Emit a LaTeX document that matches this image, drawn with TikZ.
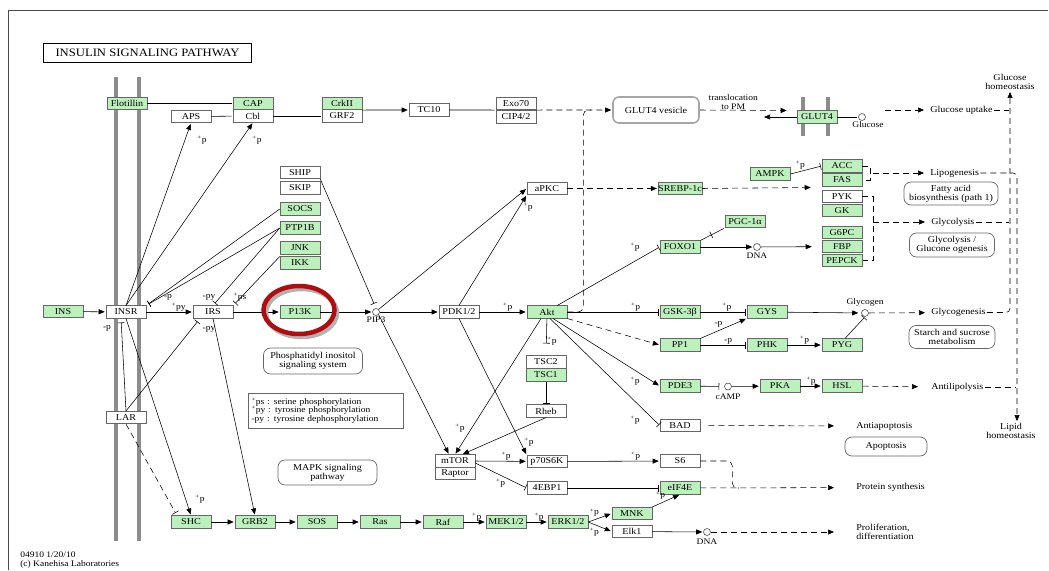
\documentclass[tikz,border=0pt]{standalone}
\usepackage{fontspec}
\setmainfont{Liberation Serif}[FakeStretch=1.12]
\usepackage{tikz}
\usetikzlibrary{positioning,arrows.meta,shapes}
\definecolor{kgreen}{RGB}{188,240,188}
\definecolor{kred}{RGB}{176,14,14}
\def\phos{\textsuperscript{+}p}
\def\dephos{-p}
\def\tyrp{\textsuperscript{+}py}
\def\tyrd{-py}
\def\serp{\textsuperscript{+}ps}
\def\kgfont{\fontsize{9}{9}\selectfont}
\def\kgsmall{\fontsize{8.5}{8.5}\selectfont}
\def\kgtitle{\fontsize{11.3}{12}\selectfont}

\begin{document}
\begin{tikzpicture}[>={Triangle[width=5pt,length=6pt]}, shorten >=1pt, auto, line width=0.55pt,
		gene/.style={draw=black!60, fill=kgreen, minimum width=40pt, minimum height=12.5pt, inner sep=0pt, font=\kgfont},
		ortho/.style={gene, fill=white},
		cpd/.style={circle, draw=black!75, fill=white, minimum size=7pt, inner sep=0pt},
		mapbox/.style={draw=black!60, rounded corners=7pt, line width=0.7pt, align=center, inner sep=1pt, font=\kgfont},
		txt/.style={font=\kgfont, inner sep=1pt, anchor=west, align=left},
		lbl/.style={font=\kgsmall, inner sep=0.8pt},
		inh/.style={-{Bar[width=7pt]}},
		ind/.style={dash pattern=on 6pt off 4pt},
		membr/.style={line width=3.5pt, draw=black!45},
		midbar/.style={sloped, draw, anchor=center, minimum width=0pt, minimum height=7pt, inner sep=0pt, pos=0.45}]
		\useasboundingbox (0pt,0pt) rectangle (1049pt,-570pt);
		\draw[black!70] (8pt,-570pt) -- (8pt,-10pt) -- (1049pt,-10pt);
		\draw[membr] (116pt,-77pt) -- (116pt,-542pt);
		\draw[membr] (139pt,-77pt) -- (139pt,-542pt);
		\draw[membr] (803pt,-97pt) -- (803pt,-137pt);
		\draw[membr] (828pt,-97pt) -- (828pt,-137pt);
		\draw (147.5pt, -53.0pt)node[draw, line width=1.5pt, minimum width=208pt, minimum height=19pt, font=\kgtitle](title){INSULIN SIGNALING PATHWAY};
		\draw (127.0pt, -103.5pt)node[gene](flot){Flotillin};
		\draw (253.0pt, -103.5pt)node[gene](cap){CAP};
		\draw (253.0pt, -116.0pt)node[ortho](cbl){Cbl};
		\draw (191.0pt, -116.5pt)node[ortho](aps){APS};
		\draw (342.0pt, -103.5pt)node[gene](crk){CrkII};
		\draw (342.0pt, -116.0pt)node[ortho](grf){GRF2};
		\draw (429.0pt, -110.0pt)node[ortho](tc10){TC10};
		\draw (516.0pt, -103.5pt)node[ortho](exo){Exo70};
		\draw (516.0pt, -117.0pt)node[ortho](cip){CIP4/2};
		\draw (656.0pt, -110.0pt)node[draw=black!35, line width=1.6pt, rounded corners=6pt, minimum width=86pt, minimum height=26pt, font=\kgfont](glut4v){GLUT4 vesicle};
		\draw (817.0pt, -117.0pt)node[gene](glut4){GLUT4};
		\draw (862.0pt, -117.0pt)node[cpd, label={[lbl, xshift=6pt, label distance=0pt]below:Glucose}](glc){};
		\draw (929.0pt, -110.0pt)node[txt](gupt){Glucose uptake};
		\draw (1010.0pt, -82.0pt)node[font=\kgfont, align=center, inner sep=1pt](ghomeo){Glucose\\homeostasis};
		\draw (770.0pt, -174.0pt)node[gene](ampk){AMPK};
		\draw (842.0pt, -166.0pt)node[gene](acc){ACC};
		\draw (842.0pt, -180.0pt)node[gene](fas){FAS};
		\draw (547.0pt, -188.5pt)node[ortho](apkc){aPKC};
		\draw (680.0pt, -188.5pt)node[gene](srebp){SREBP-1c};
		\draw (929.0pt, -173.0pt)node[txt](lipo){Lipogenesis};
		\draw (951.0pt, -193.5pt)node[mapbox, minimum width=94pt, minimum height=23pt](fabox){Fatty acid\\biosynthesis (path 1)};
		\draw (842.0pt, -196.5pt)node[ortho](pyk){PYK};
		\draw (842.0pt, -210.5pt)node[gene](gk){GK};
		\draw (842.0pt, -232.5pt)node[gene](g6pc){G6PC};
		\draw (842.0pt, -246.5pt)node[gene](fbp){FBP};
		\draw (842.0pt, -260.5pt)node[gene](pepck){PEPCK};
		\draw (930.0pt, -222.0pt)node[txt](glyc){Glycolysis};
		\draw (952.0pt, -245.0pt)node[mapbox, minimum width=85pt, minimum height=24pt](ggbox){Glycolysis /\\Glucone ogenesis};
		\draw (745.0pt, -221.5pt)node[gene](pgc){PGC-1α};
		\draw (680.0pt, -247.0pt)node[gene](foxo){FOXO1};
		\draw (757.0pt, -247.0pt)node[cpd, label={[lbl, label distance=1pt]below:DNA}](dna1){};
		\draw (300.0pt, -172.5pt)node[ortho](ship){SHIP};
		\draw (300.0pt, -188.0pt)node[ortho](skip){SKIP};
		\draw (300.0pt, -209.0pt)node[gene](socs){SOCS};
		\draw (300.0pt, -228.0pt)node[gene](ptp){PTP1B};
		\draw (300.0pt, -248.0pt)node[gene](jnk){JNK};
		\draw (300.0pt, -263.0pt)node[gene](ikk){IKK};
		\draw (63.0pt, -311.5pt)node[gene](ins){INS};
		\draw (126.0pt, -312.0pt)node[ortho](insr){INSR};
		\draw (213.0pt, -312.0pt)node[ortho](irs){IRS};
		\draw (300.0pt, -312.0pt)node[gene](pik){P13K};
		\draw (376.0pt, -312.0pt)node[cpd, label={[lbl, label distance=0pt]below:PIP3}](pip){};
		\draw (459.0pt, -312.0pt)node[ortho](pdk){PDK1/2};
		\draw (547.0pt, -312.0pt)node[gene](akt){Akt};
		\draw (680.0pt, -312.0pt)node[gene](gsk){GSK-3β};
		\draw (767.0pt, -312.0pt)node[gene](gys){GYS};
		\draw (865.0pt, -313.0pt)node[cpd, label={[lbl, label distance=2pt]above:Glycogen}](glycogen){};
		\draw (930.0pt, -312.5pt)node[txt](glycogenesis){Glycogenesis};
		\draw (313.0pt, -361.0pt)node[mapbox, minimum width=99pt, minimum height=26pt](pisbox){Phosphatidyl inositol\\signaling system};
		\draw (952.0pt, -337.0pt)node[mapbox, minimum width=86pt, minimum height=23pt](starch){Starch and sucrose\\metabolism};
		\draw (680.0pt, -345.0pt)node[gene](pp1){PP1};
		\draw (767.0pt, -345.0pt)node[gene](phk){PHK};
		\draw (842.0pt, -345.0pt)node[gene](pyg){PYG};
		\draw (546.0pt, -362.0pt)node[ortho](tsc2){TSC2};
		\draw (546.0pt, -375.0pt)node[gene](tsc1){TSC1};
		\draw (680.0pt, -386.0pt)node[gene](pde3){PDE3};
		\draw (728.0pt, -386.5pt)node[cpd, label={[lbl, label distance=3pt]below:cAMP}](camp){};
		\draw (780.0pt, -386.0pt)node[gene](pka){PKA};
		\draw (842.0pt, -386.0pt)node[gene](hsl){HSL};
		\draw (930.0pt, -387.0pt)node[txt](antil){Antilipolysis};
		\draw (1011.0pt, -431.0pt)node[font=\kgfont, align=center, inner sep=1pt](lhomeo){Lipid\\homeostasis};
		\draw (325.5pt, -410.5pt)node[draw=black!60, minimum width=155pt, minimum height=35pt, text width=148pt, align=left, font=\kgsmall](legend){\serp\ : serine phosphorylation\\\tyrp\ : tyrosine phosphorylation\\\tyrd\ : tyrosine dephosphorylation};
		\draw (546.0pt, -411.0pt)node[ortho](rheb){Rheb};
		\draw (126.0pt, -417.5pt)node[ortho](lar){LAR};
		\draw (680.0pt, -425.5pt)node[ortho](bad){BAD};
		\draw (855.0pt, -426.0pt)node[txt](antiapo){Antiapoptosis};
		\draw (886.0pt, -446.5pt)node[mapbox, minimum width=82pt, minimum height=19pt](apobox){Apoptosis};
		\draw (455.0pt, -461.0pt)node[ortho](mtor){mTOR};
		\draw (455.0pt, -473.5pt)node[ortho](raptor){Raptor};
		\draw (547.0pt, -461.5pt)node[ortho](p70){p70S6K};
		\draw (680.0pt, -461.0pt)node[ortho](s6){S6};
		\draw (547.0pt, -488.0pt)node[ortho](ebp){4EBP1};
		\draw (680.0pt, -488.0pt)node[gene](eif){eIF4E};
		\draw (855.0pt, -487.5pt)node[txt](protsyn){Protein synthesis};
		\draw (327.5pt, -472.5pt)node[mapbox, minimum width=99pt, minimum height=25pt](mapk){MAPK signaling\\pathway};
		\draw (191.0pt, -522.0pt)node[gene](shc){SHC};
		\draw (255.0pt, -522.0pt)node[gene](grb){GRB2};
		\draw (317.0pt, -522.0pt)node[gene](sos){SOS};
		\draw (380.0pt, -522.0pt)node[gene](ras){Ras};
		\draw (443.0pt, -522.0pt)node[gene](raf){Raf};
		\draw (506.0pt, -522.0pt)node[gene](mek){MEK1/2};
		\draw (568.0pt, -522.0pt)node[gene](erk){ERK1/2};
		\draw (632.0pt, -513.5pt)node[gene](mnk){MNK};
		\draw (632.0pt, -531.5pt)node[ortho](elk){Elk1};
		\draw (707.0pt, -532.0pt)node[cpd, label={[lbl, label distance=2pt]below:DNA}](dna2){};
		\draw (855.0pt, -532.0pt)node[txt](prolif){Proliferation,\\differentiation};
		\draw (19.0pt, -560.0pt)node[txt, font=\kgsmall](footer){04910 1/20/10\\(c) Kanehisa Laboratories};
		\coordinate (gin) at (763pt,-117pt);
		\coordinate (gu0) at (885pt,-110pt);
		\coordinate (vjoin) at (592pt,-110pt);
		\coordinate (sjoin) at (740pt,-488pt);
		\coordinate (lipo0) at (873pt,-173pt);
		\coordinate (glyc0) at (873pt,-222pt);
		\coordinate (lipx) at ([xshift=6pt]lhomeo.north);
		\path[-] (flot) edge (cap);
		\path[-] (aps) edge (cbl);
		\path[-] (cbl) edge (grf);
		\path[->] (crk.south east) edge (tc10);
		\path[-] (tc10) edge (exo.south west);
		\path[->, ind] (exo.south east) edge (glut4v.west);
		\path[->, ind] (glut4v.east) edge node[lbl, pos=0.38, align=center]{translocation\\to PM} ([xshift=-9pt]glut4.north west);
		\path[->] (glut4.west) edge (gin);
		\path[-] (glut4) edge (glc);
		\path[->, ind] (gu0) edge[shorten >=5pt] (gupt);
		\draw[ind] (gupt.east) -- (gupt.east -| ghomeo.south);
		\draw[->, ind, rounded corners=4pt] (glycogenesis.east) -| (ghomeo.south);
		\draw[->, ind, rounded corners=4pt] (lipo.east) -| (lipx);
		\draw[ind] (glyc.east) -- (glyc.east -| ghomeo.south);
		\draw[ind, rounded corners=3pt] (antil.east) -- (antil.east -| lipx);
		\path[->] (ins) edge (insr);
		\path[->] (insr) edge node[lbl, pos=0.7]{\tyrp} (irs);
		\path[->] (irs) edge (pik);
		\path[->] (pik) edge (pip);
		\path[->] (pip) edge (pdk);
		\path[->] (pdk) edge node[lbl, pos=0.6]{\phos} (akt);
		\path[->] (insr.north) edge (aps.south);
		\path[->] (insr.north) edge (cbl.south);
		\path[inh] (socs.west) edge[shorten >=3pt] (insr.north east);
		\path[inh] (ptp.west) edge[shorten >=3pt] (insr.north east);
		\path[inh] (ptp.west) edge[shorten >=3pt] (irs.north);
		\path[inh] (ikk.north west) edge[shorten >=3pt] (irs.north east);
		\path[inh] (lar.north) edge[shorten >=4pt] ([xshift=-5pt]insr.south);
		\path[inh] (lar.north) edge[shorten >=4pt] ([xshift=-13pt]irs.south);
		\path[->] (insr.south) edge (shc.north);
		\path[inh, ind] (lar.south) edge[shorten >=3pt] ([xshift=-14pt]shc.north);
		\path[->] (irs.south) edge (grb.north);
		\path[inh] (ship.south east) edge[shorten >=5pt] (pip.north);
		\path[->] (pip.north east) edge (apkc.west);
		\path[->] (pdk.north) edge (apkc.south west);
		\path[->] (pip.south east) edge ([xshift=-6pt]mtor.north);
		\path[->] ([xshift=-6pt]akt.south) edge (mtor.north);
		\path[->] (rheb.south) edge ([xshift=7pt]mtor.north);
		\path[->] (pdk.south) edge (p70.north west);
		\path[inh] (akt) edge[shorten >=12pt] node[lbl, pos=0.62]{\phos} (tsc2);
		\path[inh] (tsc1) edge (rheb);
		\path[->] (mtor.east) edge node[lbl, pos=0.6]{\phos} (p70);
		\path[inh] ([yshift=-2pt]mtor.east) edge node[lbl, pos=0.6, swap]{\phos} (ebp.west);
		\path[->] (p70) edge node[lbl, pos=0.74]{\phos} (s6);
		\path[inh] (ebp) edge (eif);
		\path[->, ind] (eif) edge[shorten >=21pt] (protsyn);
		\draw[ind, rounded corners=5pt] (s6.east) -- ++(32pt,0) |- (sjoin);
		\path[->, ind] (apkc) edge (srebp);
		\path[->, ind] (srebp.east) edge ([xshift=-10pt,yshift=2.5pt]pyk.north west);
		\draw[ind, rounded corners=5pt] (akt.east) -- ++(16pt,0) |- (vjoin);
		\path[inh] (ampk.east) edge node[lbl]{\phos} (acc.west);
		\draw[ind] (acc.east) -- ++(8pt,0) |- (fas.east);
		\path[->, ind] (lipo0) edge[shorten >=5pt] (lipo);
		\draw[ind] (pyk.east) -- ++(11pt,0) |- (pepck.east);
		\path[->, ind] (glyc0) edge[shorten >=5pt] (glyc);
		\path[inh] ([xshift=-10pt]akt.north east) edge (foxo.west);
		\path[inh] (akt) edge node[lbl, pos=0.74]{\phos} (gsk);
		\path[->, ind] (akt.south east) edge (pp1.west);
		\path[->] ([xshift=6pt]akt.south) edge (pde3.west);
		\path[inh] ([xshift=3pt]akt.south) edge (bad.west);
		\path[->, ind] (bad) edge[shorten <=8pt, shorten >=21pt] (antiapo);
		\path[-] (foxo.north east) edge node[midbar]{} (pgc.south west);
		\path[->] (foxo) edge (dna1);
		\path[->] (dna1) edge[shorten >=10pt] (fbp);
		\path[inh] (gsk) edge node[lbl, pos=0.57]{\phos} (gys);
		\path[->] (pp1.north east) edge node[lbl]{\dephos} (gys.south west);
		\path[inh] (pp1) edge node[lbl, pos=0.6]{\dephos} (phk);
		\path[->] (phk) edge node[lbl]{\phos} (pyg);
		\path[->] (gys) edge[shorten >=3pt] (glycogen);
		\path[inh] ([xshift=3pt]pyg.north) edge (glycogen.south);
		\path[->, ind] (glycogen) edge[shorten >=5pt] (glycogenesis);
		\path[inh] (pde3) edge[shorten >=5pt] (camp);
		\path[->] (camp) edge (pka);
		\path[->] (pka) edge node[lbl]{\phos} (hsl);
		\path[->, ind] (hsl) edge[shorten >=12pt] (antil);
		\path[->] (shc) edge (grb);
		\path[->] (grb) edge (sos);
		\path[->] (sos) edge (ras);
		\path[->] (ras) edge (raf);
		\path[->] (raf) edge node[lbl, pos=0.6]{\phos} (mek);
		\path[->] (mek) edge node[lbl, pos=0.6]{\phos} (erk);
		\path[->] (erk.east) edge node[lbl]{\phos} (mnk.west);
		\path[->] (erk.east) edge node[lbl, swap]{\phos} (elk.west);
		\path[->] (mnk.north east) edge node[lbl]{\phos} (eif.south);
		\path[->] (elk) edge (dna2);
		\path[->, ind] (dna2) edge[shorten >=21pt] (prolif);
		\draw (168.0pt, -297.0pt)node[lbl](l1){\dephos};
		\draw (209.0pt, -297.0pt)node[lbl](l2){\tyrd};
		\draw (240.0pt, -297.0pt)node[lbl](l3){\serp};
		\draw (107.0pt, -328.0pt)node[lbl](l4){\dephos};
		\draw (209.0pt, -329.0pt)node[lbl](l5){\tyrd};
		\draw (202.0pt, -140.0pt)node[lbl](l6){\phos};
		\draw (257.0pt, -140.0pt)node[lbl](l7){\phos};
		\draw (200.0pt, -499.0pt)node[lbl](l8){\phos};
		\draw (528.0pt, -207.0pt)node[lbl](l9){\phos};
		\draw (460.0pt, -428.0pt)node[lbl](l10){\phos};
		\draw (529.0pt, -442.0pt)node[lbl](l11){\phos};
		\draw (635.0pt, -247.0pt)node[lbl](l12){\phos};
		\draw (635.0pt, -381.0pt)node[lbl](l13){\phos};
		\draw (635.0pt, -420.0pt)node[lbl](l14){\phos};
		\draw[black!30, line width=4.5pt] (301.5pt,-313pt) ellipse (35.5pt and 24pt);
		\draw[kred, line width=4.5pt] (299pt,-310pt) ellipse (35.5pt and 24pt);
\end{tikzpicture}
\end{document}
